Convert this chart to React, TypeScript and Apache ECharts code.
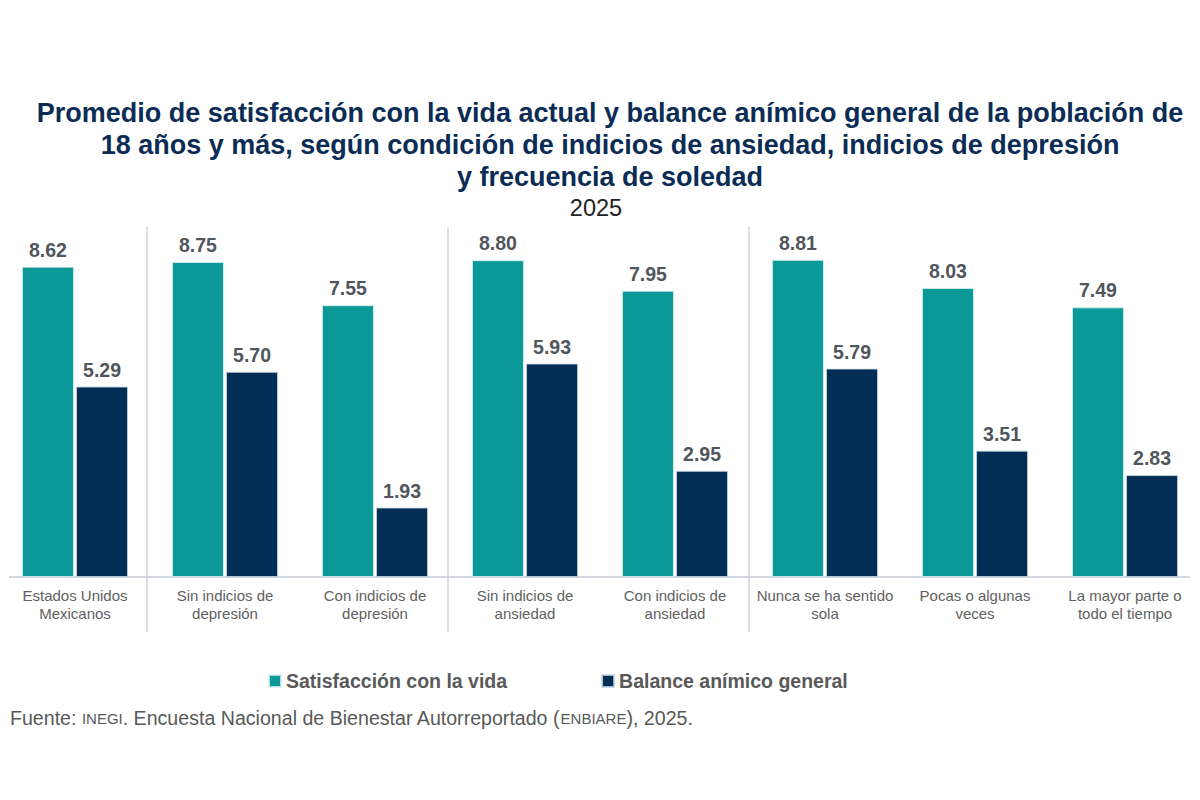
import React, { useEffect, useRef } from "react";
import * as echarts from "echarts";

const categories = [
  "Estados Unidos\nMexicanos",
  "Sin indicios de\ndepresión",
  "Con indicios de\ndepresión",
  "Sin indicios de\nansiedad",
  "Con indicios de\nansiedad",
  "Nunca se ha sentido\nsola",
  "Pocas o algunas\nveces",
  "La mayor parte o\ntodo el tiempo",
];
const satisfaccion = [8.62, 8.75, 7.55, 8.8, 7.95, 8.81, 8.03, 7.49];
const balance = [5.29, 5.7, 1.93, 5.93, 2.95, 5.79, 3.51, 2.83];
const seriesNames = ["Satisfacción con la vida", "Balance anímico general"];

const FONT = "'Liberation Sans', Arial, sans-serif";
const TEAL = "#0a9899";
const NAVY = "#022e55";

export default function App() {
  const ref = useRef<HTMLDivElement>(null);
  useEffect(() => {
    if (!ref.current) return;
    const chart = echarts.init(ref.current, undefined, { renderer: "svg" });
    const label = {
      show: true,
      position: "top",
      distance: 7,
      fontSize: 19.5,
      fontWeight: "bold",
      color: "#50565c",
      fontFamily: FONT,
      formatter: (p: any) => Number(p.value).toFixed(2),
    };
    const sepStyle = { stroke: "#b9c1c9", lineWidth: 1 };
    chart.setOption({
      animation: false,
      textStyle: { fontFamily: FONT },
      title: [
        {
          text: "Promedio de satisfacción con la vida actual y balance anímico general de la población de\n18 años y más, según condición de indicios de ansiedad, indicios de depresión\ny frecuencia de soledad",
          left: 610,
          top: 97,
          padding: 0,
          textAlign: "center",
          textStyle: {
            fontSize: 27,
            fontWeight: "bold",
            color: "#0b2c54",
            lineHeight: 32,
            fontFamily: FONT,
          },
        },
        {
          text: "2025",
          left: 596,
          top: 196,
          padding: 0,
          textAlign: "center",
          textStyle: { fontSize: 23.5, fontWeight: "normal", color: "#222", fontFamily: FONT },
        },
      ],
      legend: {
        left: 268,
        top: 671,
        padding: 0,
        icon: "rect",
        itemWidth: 12,
        itemHeight: 12,
        itemGap: 94,
        textStyle: { fontSize: 19.5, fontWeight: "bold", color: "#595959", fontFamily: FONT },
        data: seriesNames,
      },
      grid: { left: 0, right: -8, top: 217, bottom: 223 },
      xAxis: {
        type: "category",
        data: categories,
        axisLine: { show: false },
        axisTick: { show: false },
        axisLabel: {
          interval: 0,
          margin: 9,
          fontSize: 15,
          lineHeight: 18,
          color: "#616161",
          fontFamily: FONT,
        },
      },
      yAxis: {
        type: "value",
        min: 0,
        max: 10,
        show: false,
        splitLine: { show: false },
      },
      series: [
        {
          name: seriesNames[0],
          type: "bar",
          data: satisfaccion,
          barWidth: 52,
          barGap: "4%",
          itemStyle: { color: TEAL, borderColor: "rgba(220,240,240,0.8)", borderWidth: 1 },
          label,
        },
        {
          name: seriesNames[1],
          type: "bar",
          data: balance,
          barWidth: 52,
          itemStyle: { color: NAVY, borderColor: "rgba(200,215,225,0.8)", borderWidth: 1 },
          label,
        },
      ],
      graphic: [
        { type: "line", shape: { x1: 9, y1: 577, x2: 1190, y2: 577 }, style: { stroke: "#a9b1b9", lineWidth: 1.2 }, silent: true },
        { type: "line", shape: { x1: 147, y1: 227, x2: 147, y2: 632 }, style: sepStyle, silent: true },
        { type: "line", shape: { x1: 448, y1: 227, x2: 448, y2: 632 }, style: sepStyle, silent: true },
        { type: "line", shape: { x1: 749, y1: 227, x2: 749, y2: 632 }, style: sepStyle, silent: true },
        {
          type: "text",
          left: 10,
          top: 708,
          style: {
            text: "{a|Fuente: }{b|INEGI}{a|. Encuesta Nacional de Bienestar Autorreportado (}{b|ENBIARE}{a|), 2025.}",
            fill: "#595959",
            rich: {
              a: { fontSize: 19.6, fill: "#595959", fontFamily: FONT },
              b: { fontSize: 15, fill: "#595959", fontFamily: FONT },
            },
          },
          silent: true,
        },
      ],
    });
    return () => chart.dispose();
  }, []);
  return (
    <div
      ref={ref}
      style={{ position: "absolute", left: 0, top: 0, width: 1200, height: 800, background: "#fff" }}
    />
  );
}
